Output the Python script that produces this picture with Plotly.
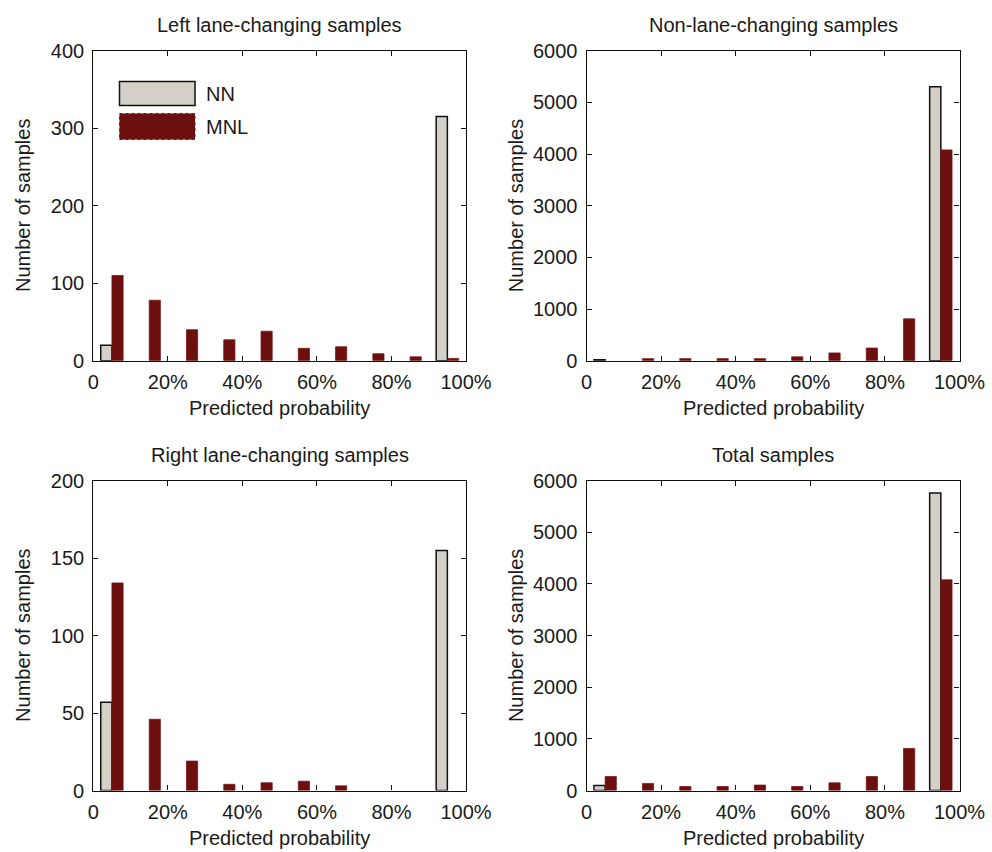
import plotly.graph_objects as go

# Histogram bins: predicted probability in 10% steps (bin centres, in %)
bin_centers = [5, 15, 25, 35, 45, 55, 65, 75, 85, 95]
tick_vals = [0, 20, 40, 60, 80, 100]
tick_text = ["0", "20%", "40%", "60%", "80%", "100%"]

# Sample counts per bin
left_nn = [20, 0, 0, 0, 0, 0, 0, 0, 0, 315]
left_mnl = [110, 78, 40, 27, 38, 16, 18, 9, 5, 3]
non_nn = [20, 0, 0, 0, 0, 0, 0, 0, 0, 5300]
non_mnl = [0, 40, 40, 40, 40, 75, 150, 245, 810, 4080]
right_nn = [57, 0, 0, 0, 0, 0, 0, 0, 0, 155]
right_mnl = [134, 46, 19, 4, 5, 6, 3, 0, 0, 0]
total_nn = [95, 0, 0, 0, 0, 0, 0, 0, 0, 5760]
total_mnl = [270, 135, 77, 77, 105, 77, 148, 270, 815, 4080]

panel_titles = ["Left lane-changing samples", "Non-lane-changing samples",
                "Right lane-changing samples", "Total samples"]
y_ranges = [400, 6000, 200, 6000]
y_dticks = [100, 1000, 50, 1000]

NN_FILL = "#d4d0c8"
MNL_FILL = "#6b0f0f"
FONT = "Liberation Sans, Arial, sans-serif"
TXT = "#1a1a1a"
W, H = 992, 852

# Panel boxes in pixels: (left, right, top, bottom)
boxes = [(93.3, 466.0, 50.7, 360.7), (586.5, 959.5, 50.7, 360.7),
         (93.3, 466.0, 480.7, 790.5), (586.5, 959.5, 480.7, 790.5)]

fig = go.Figure()
series = [(left_nn, left_mnl), (non_nn, non_mnl), (right_nn, right_mnl), (total_nn, total_mnl)]


def txt(text, x, y, angle=0, xanchor="center"):
    return dict(text=text, x=x / W, y=1 - y / H, xref="paper", yref="paper",
                xanchor=xanchor, yanchor="middle", showarrow=False, textangle=angle,
                font=dict(family=FONT, size=20, color=TXT))


def nonzero(values):
    # empty bins draw no bar (and no outline on the baseline)
    return [v if v else None for v in values]


annotations = []
for i, ((nn, mnl), box) in enumerate(zip(series, boxes)):
    xa = "x" if i == 0 else f"x{i+1}"
    ya = "y" if i == 0 else f"y{i+1}"
    fig.add_trace(go.Bar(x=bin_centers, y=nonzero(nn), name="NN", xaxis=xa, yaxis=ya,
                         marker=dict(color=NN_FILL, line=dict(color="#111111", width=1.5)),
                         showlegend=False))
    fig.add_trace(go.Bar(x=bin_centers, y=nonzero(mnl), name="MNL", xaxis=xa, yaxis=ya,
                         marker=dict(color=MNL_FILL, line=dict(color="#7a1818", width=0.8)),
                         showlegend=False))
    l, r, t, b = box
    ax_common = dict(showline=True, mirror="allticks", linecolor="#111111", linewidth=1.2,
                     ticks="inside", ticklen=5, tickcolor="#111111", tickwidth=1.2,
                     showgrid=False, zeroline=False, automargin=False,
                     tickfont=dict(family=FONT, size=20, color=TXT))
    fig.update_layout(**{
        ("xaxis" if i == 0 else f"xaxis{i+1}"): dict(
            domain=[l / W, r / W], anchor=ya, range=[0, 100],
            tickmode="array", tickvals=tick_vals, ticktext=tick_text,
            ticklabelstandoff=3, **ax_common),
        ("yaxis" if i == 0 else f"yaxis{i+1}"): dict(
            domain=[1 - b / H, 1 - t / H], anchor=xa, range=[0, y_ranges[i]],
            tickmode="linear", tick0=0, dtick=y_dticks[i],
            ticklabelstandoff=4, **ax_common),
    })
    cx = (l + r) / 2
    cy = (t + b) / 2
    annotations.append(txt(panel_titles[i], cx, t - 26))
    annotations.append(txt("Predicted probability", cx, b + 47))
    annotations.append(txt("Number of samples", l - 71, cy, angle=-90))

# Legend in the first panel
shapes = [
    dict(type="rect", xref="paper", yref="paper",
         x0=119.5 / W, x1=195 / W, y0=1 - 105.5 / H, y1=1 - 81.5 / H,
         fillcolor=NN_FILL, line=dict(color="#111111", width=1.5)),
    dict(type="rect", xref="paper", yref="paper",
         x0=119.5 / W, x1=195 / W, y0=1 - 139.5 / H, y1=1 - 113.5 / H,
         fillcolor=MNL_FILL, line=dict(color="#7a1818", width=1, dash="dot")),
]
annotations.append(txt("NN", 204, 93.5, xanchor="left"))
annotations.append(txt("MNL", 204, 126.5, xanchor="left"))

fig.update_layout(width=W, height=H,
                  margin=dict(l=0, r=0, t=0, b=0, pad=0, autoexpand=False),
                  paper_bgcolor="white", plot_bgcolor="white",
                  barmode="group", bargap=0.4, bargroupgap=0,
                  annotations=annotations, shapes=shapes)

fig.write_html("out.html")
